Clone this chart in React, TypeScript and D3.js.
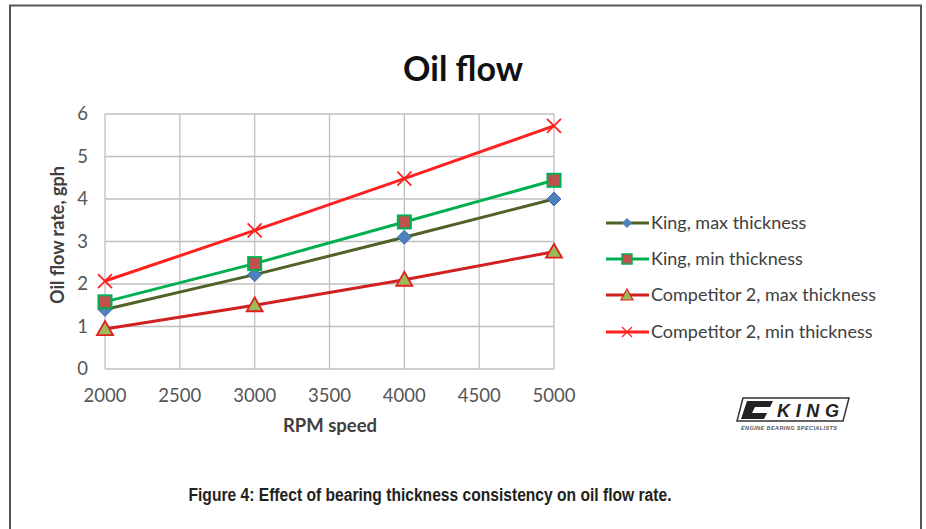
import React, { useEffect, useRef } from 'react';
import * as d3 from 'd3';

// RPM values on the x axis
const rpm = [2000, 3000, 4000, 5000];

// oil flow rate (gph) per series
const kingMax = [1.4, 2.22, 3.1, 4.0];
const kingMin = [1.58, 2.48, 3.46, 4.44];
const compMax = [0.94, 1.5, 2.1, 2.76];
const compMin = [2.07, 3.26, 4.48, 5.72];

const seriesNames = [
  'King, max thickness',
  'King, min thickness',
  'Competitor 2, max thickness',
  'Competitor 2, min thickness',
];

const xTicks = [2000, 2500, 3000, 3500, 4000, 4500, 5000];
const yTicks = [0, 1, 2, 3, 4, 5, 6];

const WIDTH = 926;
const HEIGHT = 529;

function App() {
  const svgRef = useRef<SVGSVGElement>(null);

  useEffect(() => {
    const svg = d3.select(svgRef.current);
    svg.selectAll('*').remove();

    const font = 'Lato, "Open Sans", sans-serif';

    // white page + frame
    svg.append('rect').attr('x', 0).attr('y', 0).attr('width', WIDTH).attr('height', HEIGHT).attr('fill', '#fff');
    svg.append('path')
      .attr('d', `M10,${HEIGHT} L10,5.5 L921,5.5 L921,${HEIGHT}`)
      .attr('fill', 'none')
      .attr('stroke', '#555')
      .attr('stroke-width', 2);

    const x = d3.scaleLinear().domain([2000, 5000]).range([105, 554]);
    const y = d3.scaleLinear().domain([0, 6]).range([369, 114]);

    // grid
    const grid = svg.append('g');
    grid.selectAll('line.v')
      .data(xTicks)
      .enter()
      .append('line')
      .attr('x1', (d) => x(d)).attr('x2', (d) => x(d))
      .attr('y1', y(0)).attr('y2', y(6))
      .attr('stroke', '#bfbfbf').attr('stroke-width', 1.3);
    grid.selectAll('line.h')
      .data(yTicks)
      .enter()
      .append('line')
      .attr('x1', x(2000)).attr('x2', x(5000))
      .attr('y1', (d) => y(d)).attr('y2', (d) => y(d))
      .attr('stroke', '#bfbfbf').attr('stroke-width', 1.3);

    // tick labels
    svg.append('g').selectAll('text')
      .data(yTicks)
      .enter()
      .append('text')
      .attr('x', 88).attr('y', (d) => y(d) + 6)
      .attr('text-anchor', 'end')
      .attr('font-family', font).attr('font-size', 18.5).attr('fill', '#555')
      .text((d) => d);
    svg.append('g').selectAll('text')
      .data(xTicks)
      .enter()
      .append('text')
      .attr('x', (d) => x(d)).attr('y', 402)
      .attr('text-anchor', 'middle')
      .attr('font-family', font).attr('font-size', 18.5).attr('fill', '#555')
      .text((d) => d);

    // axis titles
    svg.append('text')
      .attr('x', 330).attr('y', 432)
      .attr('text-anchor', 'middle')
      .attr('font-family', font).attr('font-size', 18.5).attr('font-weight', 'bold').attr('fill', '#404040')
      .text('RPM speed');
    svg.append('text')
      .attr('transform', 'translate(64,235) rotate(-90)')
      .attr('text-anchor', 'middle')
      .attr('font-family', font).attr('font-size', 18).attr('font-weight', 'bold').attr('fill', '#404040')
      .text('Oil flow rate, gph');

    // chart title
    svg.append('text')
      .attr('x', 463).attr('y', 81)
      .attr('text-anchor', 'middle')
      .attr('font-family', font).attr('font-size', 34).attr('font-weight', 'bold').attr('fill', '#111')
      .text('Oil flow');

    const series = [
      { name: seriesNames[0], values: kingMax, line: '#4f6228', marker: 'diamond', fill: '#4f81bd', edge: '#3f6fa8' },
      { name: seriesNames[1], values: kingMin, line: '#00b050', marker: 'square', fill: '#c0504d', edge: '#00b050' },
      { name: seriesNames[2], values: compMax, line: '#d02020', marker: 'triangle', fill: '#9bbb59', edge: '#e02020' },
      { name: seriesNames[3], values: compMin, line: '#ff2020', marker: 'x', fill: 'none', edge: '#ff2020' },
    ];

    const lineGen = d3.line<number>()
      .x((_, i) => x(rpm[i]))
      .y((d) => y(d));

    const drawMarker = (g: any, kind: string, cx: number, cy: number, fill: string, edge: string) => {
      if (kind === 'diamond') {
        g.append('path').attr('d', `M${cx},${cy - 7} L${cx + 7},${cy} L${cx},${cy + 7} L${cx - 7},${cy} Z`)
          .attr('fill', fill).attr('stroke', edge).attr('stroke-width', 1);
      } else if (kind === 'square') {
        g.append('rect').attr('x', cx - 6.5).attr('y', cy - 6.5).attr('width', 13).attr('height', 13)
          .attr('fill', fill).attr('stroke', edge).attr('stroke-width', 2);
      } else if (kind === 'triangle') {
        g.append('path').attr('d', `M${cx},${cy - 8} L${cx + 8},${cy + 6} L${cx - 8},${cy + 6} Z`)
          .attr('fill', fill).attr('stroke', edge).attr('stroke-width', 1.8);
      } else {
        g.append('path').attr('d', `M${cx - 7},${cy - 7} L${cx + 7},${cy + 7} M${cx - 7},${cy + 7} L${cx + 7},${cy - 7}`)
          .attr('fill', 'none').attr('stroke', edge).attr('stroke-width', 1.8);
      }
    };

    series.forEach((s) => {
      svg.append('path')
        .attr('d', lineGen(s.values))
        .attr('fill', 'none')
        .attr('stroke', s.line)
        .attr('stroke-width', 3);
      const g = svg.append('g');
      s.values.forEach((v, i) => drawMarker(g, s.marker, x(rpm[i]), y(v), s.fill, s.edge));
    });

    // legend
    const legendY = [223, 259, 295, 332];
    series.forEach((s, i) => {
      const ly = legendY[i];
      svg.append('line')
        .attr('x1', 606).attr('x2', 649).attr('y1', ly).attr('y2', ly)
        .attr('stroke', s.line).attr('stroke-width', 3);
      const g = svg.append('g');
      if (s.marker === 'diamond') {
        g.append('path').attr('d', `M627,${ly - 5} L632,${ly} L627,${ly + 5} L622,${ly} Z`).attr('fill', s.fill);
      } else if (s.marker === 'square') {
        g.append('rect').attr('x', 622).attr('y', ly - 5).attr('width', 10).attr('height', 10)
          .attr('fill', s.fill).attr('stroke', s.edge).attr('stroke-width', 1.5);
      } else if (s.marker === 'triangle') {
        g.append('path').attr('d', `M627,${ly - 6} L633,${ly + 5} L621,${ly + 5} Z`)
          .attr('fill', s.fill).attr('stroke', s.edge).attr('stroke-width', 1.2);
      } else {
        g.append('path').attr('d', `M622,${ly - 5} L632,${ly + 5} M622,${ly + 5} L632,${ly - 5}`)
          .attr('stroke', s.edge).attr('stroke-width', 1.3);
      }
      svg.append('text')
        .attr('x', 651).attr('y', ly + 6)
        .attr('font-family', font).attr('font-size', 18).attr('fill', '#404040')
        .text(s.name);
    });

    // KING logo (approximation)
    const logo = svg.append('g').attr('transform', 'translate(737,398)');
    logo.append('path').attr('d', 'M6,0 L112,0 L106,23 L0,23 Z').attr('fill', 'none').attr('stroke', '#333').attr('stroke-width', 1.5);
    logo.append('path').attr('d', 'M10,3 L36,3 L33,9 L18,9 L15,15 L30,15 L27,21 L4,21 Z').attr('fill', '#222');
    logo.append('text')
      .attr('x', 40).attr('y', 19)
      .attr('font-family', '"Liberation Sans", Arial, sans-serif').attr('font-size', 18).attr('font-weight', 'bold')
      .attr('font-style', 'italic').attr('fill', '#222').attr('textLength', 62)
      .text('KING');
    logo.append('text')
      .attr('x', 4).attr('y', 32)
      .attr('font-family', '"Liberation Sans", Arial, sans-serif').attr('font-size', 5.5).attr('font-weight', 'bold')
      .attr('font-style', 'italic').attr('fill', '#555').attr('textLength', 96)
      .text('ENGINE BEARING SPECIALISTS');

    // caption
    svg.append('text')
      .attr('x', 430).attr('y', 501)
      .attr('text-anchor', 'middle')
      .attr('font-family', '"Liberation Sans Narrow", "Liberation Sans", sans-serif')
      .attr('font-size', 18).attr('font-weight', 'bold').attr('fill', '#231f20')
      .attr('textLength', 483).attr('lengthAdjust', 'spacingAndGlyphs')
      .text('Figure 4: Effect of bearing thickness consistency on oil flow rate.');
  }, []);

  return (
    <svg
      ref={svgRef}
      width={WIDTH}
      height={HEIGHT}
      style={{ position: 'absolute', left: 0, top: 0, display: 'block' }}
    ></svg>
  );
}

export default App;
